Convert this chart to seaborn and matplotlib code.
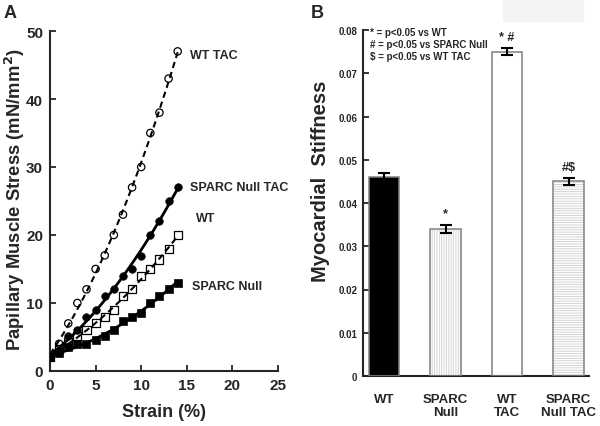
import matplotlib
matplotlib.use("Agg")
import matplotlib.pyplot as plt
import seaborn as sns
import numpy as np
import pandas as pd
from matplotlib.patches import Rectangle

# ---- Panel A data ----
strain = [0, 1, 2, 3, 4, 5, 6, 7, 8, 9, 10, 11, 12, 13, 14]
wt_tac = [2, 4, 7, 10, 12, 15, 17, 20, 23, 27, 30, 35, 38, 43, 47]
sparc_null_tac = [2, 3, 5.1, 6, 8, 9, 11, 12, 14, 15, 16.9, 20, 22, 25, 27]
wt = [2, 3.2, 4.2, 5.1, 6, 7, 8, 9, 11, 12, 14, 15, 16.4, 17.9, 20]
sparc_null = [2, 2.7, 3.5, 3.9, 4, 4.5, 5.1, 6, 7.3, 8, 8.6, 10, 11.1, 12, 13]

# ---- Panel B data ----
groups = ["WT", "SPARC\nNull", "WT\nTAC", "SPARC\nNull TAC"]
stiffness = [0.046, 0.034, 0.075, 0.045]
stiffness_err = [0.001, 0.001, 0.0008, 0.0008]
sig_marks = ["", "*", "* #", "#$"]

sns.set_theme(style="ticks")
plt.rcParams['font.family'] = ['Liberation Sans', 'DejaVu Sans']
plt.rcParams['font.weight'] = 'bold'
plt.rcParams['hatch.linewidth'] = 0.6

fig = plt.figure(figsize=(6.0, 4.27), dpi=100)
fig.patches.append(Rectangle((503/600, 1-22/427), 80/600, 22/427,
                             transform=fig.transFigure, color="#f3f3f3", zorder=0))

# ================= Panel A =================
axA = fig.add_axes([50/600, 1-372/427, 228/600, 340/427])
dfA = pd.DataFrame({"strain": strain, "wt_tac": wt_tac, "snt": sparc_null_tac,
                    "wt": wt, "sn": sparc_null})

# fitted curves
sns.regplot(data=dfA, x="strain", y="wt_tac", order=2, ci=None, scatter=False, ax=axA,
            line_kws=dict(color="black", lw=1.5, ls=(0, (3, 2))))
sns.regplot(data=dfA, x="strain", y="snt", order=2, ci=None, scatter=False, ax=axA,
            line_kws=dict(color="black", lw=2))
sns.regplot(data=dfA, x="strain", y="wt", order=2, ci=None, scatter=False, ax=axA,
            line_kws=dict(color="black", lw=1.5, ls=(0, (3, 2))))
sns.regplot(data=dfA, x="strain", y="sn", order=2, ci=None, scatter=False, ax=axA,
            line_kws=dict(color="black", lw=2))

# markers
sns.scatterplot(data=dfA, x="strain", y="wt_tac", marker="o", s=28, facecolor="none",
                edgecolor="black", linewidth=0.9, ax=axA, zorder=5)
sns.scatterplot(data=dfA, x="strain", y="snt", marker="o", s=30, color="black",
                edgecolor="black", ax=axA, zorder=5)
sns.scatterplot(data=dfA, x="strain", y="wt", marker="s", s=34, facecolor="none",
                edgecolor="black", linewidth=0.9, ax=axA, zorder=5)
sns.scatterplot(data=dfA, x="strain", y="sn", marker="s", s=34, color="black",
                edgecolor="black", ax=axA, zorder=5)

axA.set_xlim(0, 25)
axA.set_ylim(0, 50)
axA.set_xticks([0, 5, 10, 15, 20, 25])
axA.set_yticks([0, 10, 20, 30, 40, 50])
axA.tick_params(direction="in", length=4, width=1.3, labelsize=11, pad=5)
for lab in axA.get_xticklabels() + axA.get_yticklabels():
    lab.set_fontweight("bold")
sns.despine(ax=axA)
for s in ["left", "bottom"]:
    axA.spines[s].set_linewidth(1.5)
axA.set_xlabel("Strain (%)", fontsize=13, fontweight="bold", labelpad=8)
axA.set_ylabel("Papillary Muscle Stress (mN/mm$^\\mathbf{2}$)", fontsize=13.3,
               fontweight="bold")
axA.yaxis.set_label_coords(-0.10, 0.506)

label_kw = dict(fontsize=9, fontweight="bold", va="center", ha="left")
axA.text(15.3, 46.5, "WT TAC", **label_kw)
axA.text(15.3, 27.0, "SPARC Null TAC", **label_kw)
axA.text(16.0, 22.5, "WT", **label_kw)
axA.text(15.6, 12.5, "SPARC Null", **label_kw)

fig.text(4/600, 1-14/427, "A", fontsize=13, fontweight="bold", ha="left", va="center")
fig.text(311/600, 1-14/427, "B", fontsize=13, fontweight="bold", ha="left", va="center")

# ================= Panel B =================
axB = fig.add_axes([363/600, 1-377/427, 226/600, 346/427])
dfB = pd.DataFrame({"group": groups, "stiffness": stiffness})
fills = ["black", "white", "white", "white"]
sns.barplot(data=dfB, x="group", y="stiffness", hue="group", palette=fills,
            width=0.5, legend=False, ax=axB, errorbar=None, linewidth=0, zorder=2)
hatches = [None, "|||||||", None, "-------"]
for p, h, c in zip(axB.patches, hatches, fills):
    if h:
        p.set_hatch(h)
        p.set_edgecolor("#cccccc")
        p.set_linewidth(0)
# outlines
sns.barplot(data=dfB, x="group", y="stiffness", width=0.5, fill=False,
            color="#808080", errorbar=None, linewidth=1.1, ax=axB, zorder=3)
axB.patches[0].set_edgecolor("black")
axB.errorbar(range(len(groups)), stiffness, yerr=stiffness_err, fmt="none",
             ecolor="black", elinewidth=1.5, capsize=4.5, capthick=1.5, zorder=4)

for i, (m, v, e) in enumerate(zip(sig_marks, stiffness, stiffness_err)):
    if m:
        axB.text(i, v + e + 0.0012, m, ha="center", va="bottom", fontsize=9,
                 fontweight="bold")

axB.set_xlim(-0.34, 3.33)
axB.set_ylim(0, 0.08)
axB.set_yticks([0, 0.01, 0.02, 0.03, 0.04, 0.05, 0.06, 0.07, 0.08])
axB.set_yticklabels(["0", "0.01", "0.02", "0.03", "0.04", "0.05", "0.06", "0.07", "0.08"])
axB.tick_params(axis="y", direction="in", length=4, width=1.3, labelsize=7, pad=4)
axB.tick_params(axis="x", length=0, labelsize=9.5, pad=12)
for lab in axB.get_xticklabels() + axB.get_yticklabels():
    lab.set_fontweight("bold")
sns.despine(ax=axB)
for s in ["left", "bottom"]:
    axB.spines[s].set_linewidth(1.5)
axB.set_xlabel("")
axB.set_ylabel("Myocardial  Stiffness", fontsize=14.5, fontweight="bold")
axB.yaxis.set_label_coords(-0.146, 0.566)

note_kw = dict(fontsize=7, fontweight="bold", ha="left", va="center")
axB.text(-0.23, 0.0795, "* = p<0.05 vs WT", **note_kw)
axB.text(-0.23, 0.0767, "# = p<0.05 vs SPARC Null", **note_kw)
axB.text(-0.23, 0.0739, "$ = p<0.05 vs WT TAC", **note_kw)

fig.savefig("out.png", dpi=100)
